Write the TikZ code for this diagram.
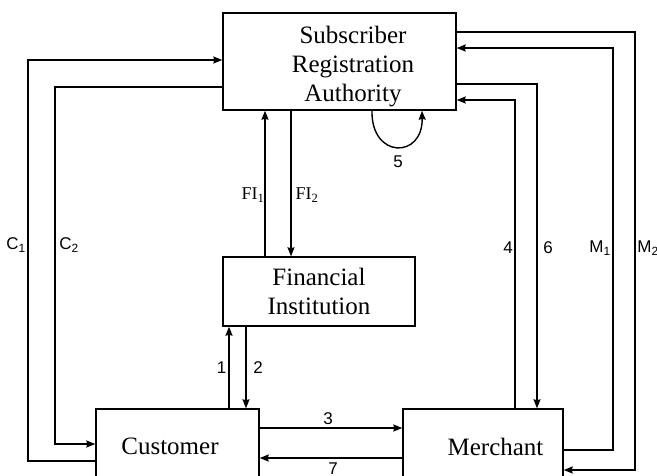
\documentclass[tikz,border=0pt]{standalone}
\usepackage{fontspec}
\setmainfont{Liberation Serif}
\setsansfont{Liberation Sans}
\usetikzlibrary{arrows.meta}
\tikzset{
	block/.style = {rectangle, draw=black, line width=1.4pt, inner sep=0pt},
	blocktext/.style = {align=center, inner sep=0pt,
		font=\fontsize{25}{29}\selectfont},
	flow/.style = {->, >={Stealth[length=9pt,width=7pt,inset=1pt]}, line width=1.4pt},
	num/.style = {inner sep=1pt, font=\sffamily\fontsize{17}{19}\selectfont},
	finum/.style = {inner sep=1pt, font=\fontsize{18}{20}\selectfont}
}

\begin{document}
\begin{tikzpicture}[x=1pt,y=-1pt]
\useasboundingbox (0,0) rectangle (657,475);
% the four parties
\node [block, minimum width=233pt, minimum height=97pt] (sra) at (339.5,61.5) {};
\node [blocktext] (sratext) at (353,67) {Subscriber\\Registration\\Authority};
\node [block, minimum width=192pt, minimum height=69pt] (fi) at (319,291.5) {};
\node [blocktext] (fitext) at (319,291.5) {Financial\\Institution};
\node [block, minimum width=163pt, minimum height=76pt] (cust) at (177.5,447) {};
\node [blocktext] (custtext) at (170,446.5) {Customer};
\node [block, minimum width=160pt, minimum height=76pt] (merch) at (483,447) {};
\node [blocktext] (merchtext) at (495.5,446.5) {Merchant};

% customer <-> authority
\draw [flow] (cust.west |- 0,461) -| (28,60) -- (sra.west |- 0,60);
\draw [flow] (sra.west |- 0,87) -| (55,444) -- (cust.west |- 0,444);
% financial institution <-> authority
\draw [flow] (fi.north -| 265,0) -- (sra.south -| 265,0);
\draw [flow] (sra.south -| 291,0) -- (fi.north -| 291,0);
% customer <-> financial institution
\draw [flow] (cust.north -| 229,0) -- (fi.south -| 229,0);
\draw [flow] (fi.south -| 246,0) -- (cust.north -| 246,0);
% customer <-> merchant
\draw [flow] (cust.east |- 0,428) -- (merch.west |- 0,428);
\draw [flow] (merch.west |- 0,458) -- (cust.east |- 0,458);
% merchant <-> authority
\draw [flow] (merch.north -| 515,0) |- (sra.east |- 0,100);
\draw [flow] (sra.east |- 0,84) -| (merch.north -| 537,0);
\draw [flow] (merch.east |- 0,450) -| (613,48) -- (sra.east |- 0,48);
\draw [flow] (sra.east |- 0,32) -| (635,470) -- (merch.east |- 0,470);
% authority loop
\draw [flow] (sra.south -| 372,0) .. controls (371,159) and (423,159) .. (sra.south -| 422,0);

% labels
\node [num] (lc1) at (16,245) {C\textsubscript{1}};
\node [num] (lc2) at (69,245) {C\textsubscript{2}};
\node [finum] (lfi1) at (253,195) {FI\textsubscript{1}};
\node [finum] (lfi2) at (307,195) {FI\textsubscript{2}};
\node [num] (l1) at (221.5,368) {1};
\node [num] (l2) at (258,368) {2};
\node [num] (l3) at (328,419) {3};
\node [num] (l4) at (508,248) {4};
\node [num] (l5) at (398,162) {5};
\node [num] (l6) at (548,248) {6};
\node [num] (l7) at (333,469) {7};
\node [num] (lm1) at (600,248) {M\textsubscript{1}};
\node [num] (lm2) at (648,248) {M\textsubscript{2}};
\end{tikzpicture}
\end{document}
